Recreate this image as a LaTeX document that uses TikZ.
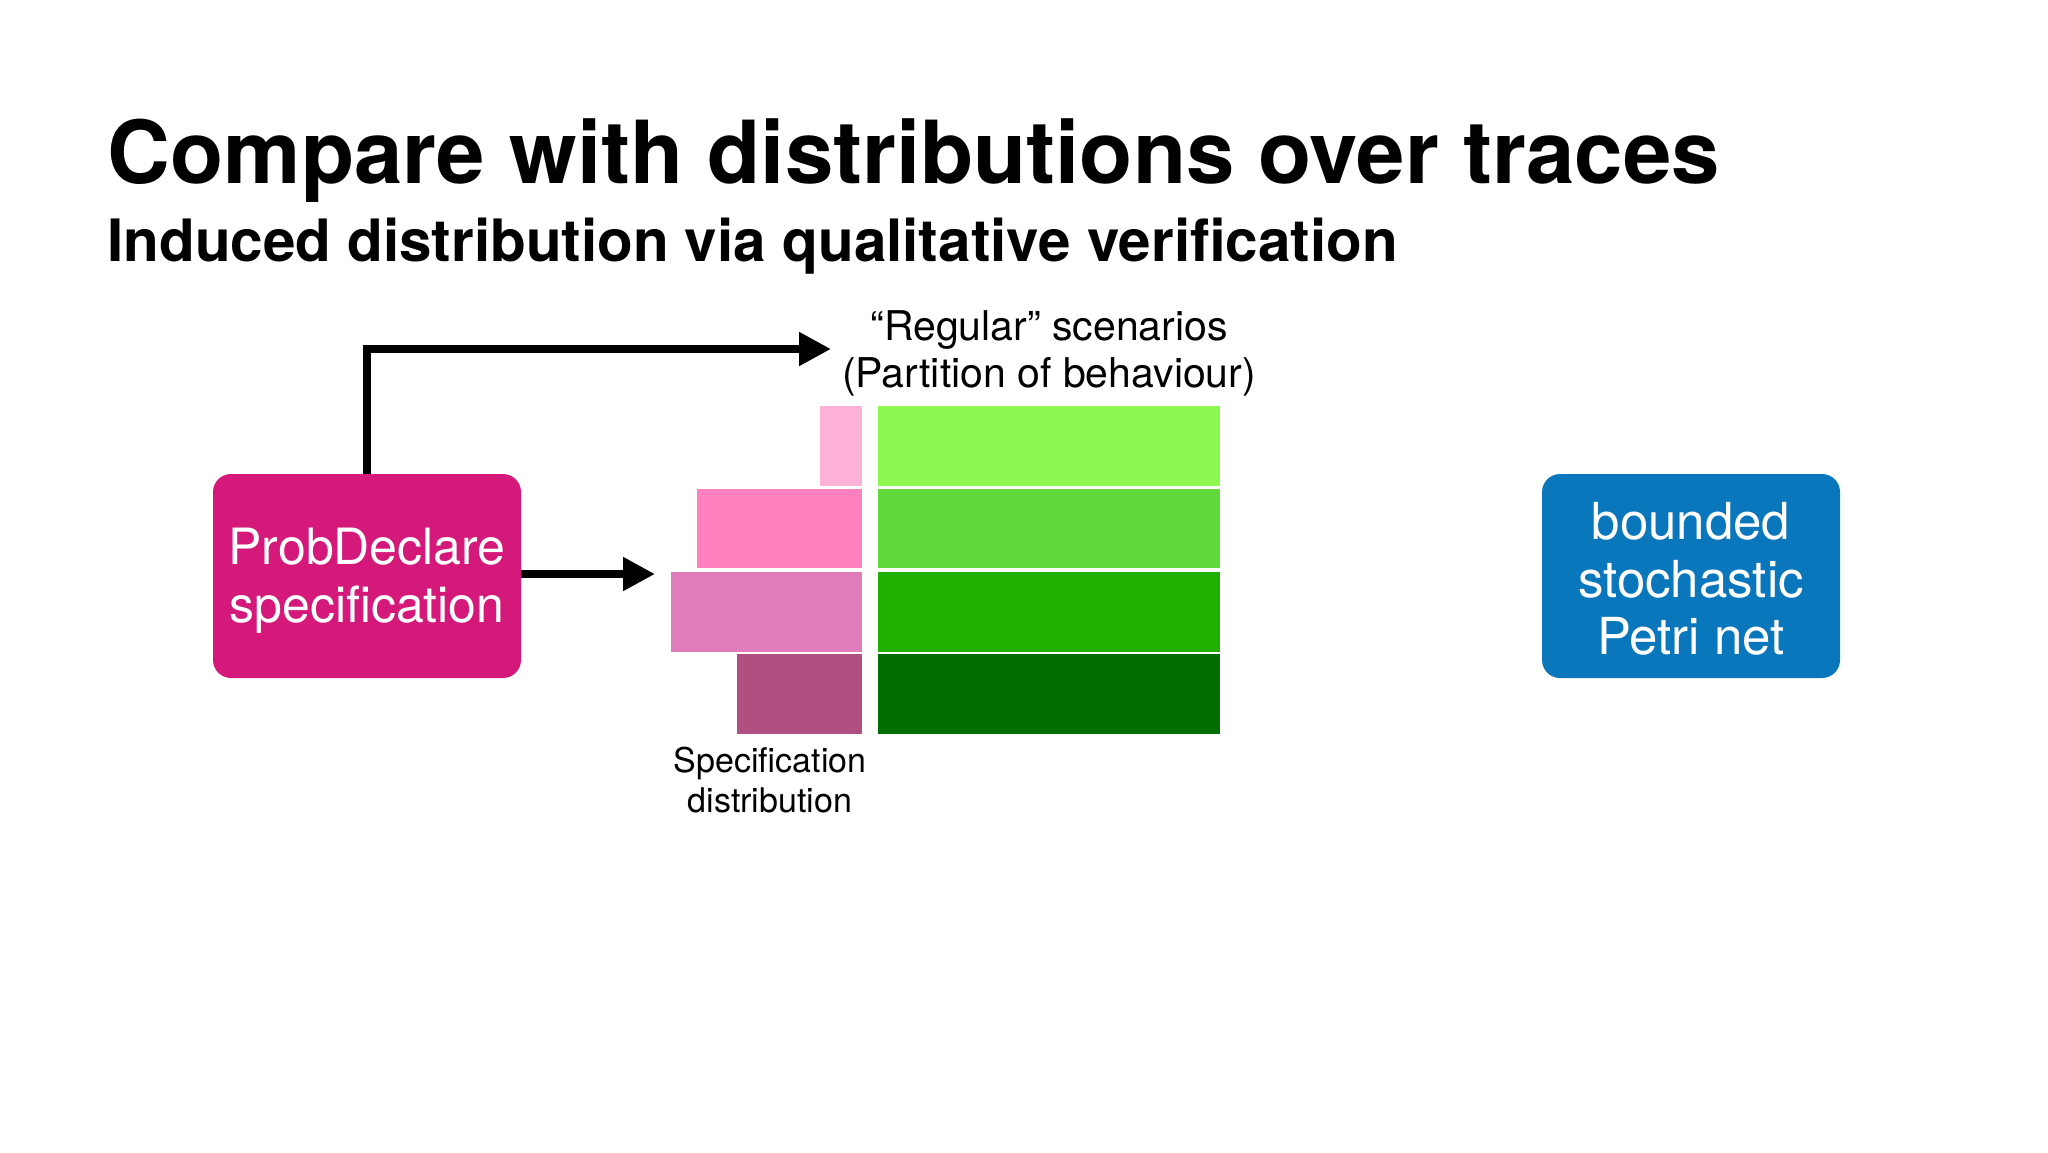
\documentclass[tikz,border=0pt]{standalone}
\usepackage{fontspec}
\setmainfont{TeX Gyre Heros}
\usetikzlibrary{arrows.meta}
\definecolor{pdmag}{RGB}{212,25,122}
\definecolor{pnblue}{RGB}{10,119,189}
\definecolor{pk1}{RGB}{255,178,216}
\definecolor{pk2}{RGB}{255,128,191}
\definecolor{pk3}{RGB}{224,124,186}
\definecolor{pk4}{RGB}{176,79,128}
\definecolor{gr1}{RGB}{140,248,80}
\definecolor{gr2}{RGB}{98,217,59}
\definecolor{gr3}{RGB}{31,176,0}
\definecolor{gr4}{RGB}{0,110,0}
\tikzset{
  bigbox/.style={rounded corners=9pt, inner sep=0pt, minimum height=102pt},
  boxlabel/.style={inner sep=0pt, text=white, align=center},
  titletext/.style={anchor=base west, inner sep=0pt, font=\fontsize{43.5pt}{52pt}\selectfont\bfseries},
  subtext/.style={anchor=base west, inner sep=0pt, font=\fontsize{29.2pt}{35pt}\selectfont\bfseries},
  labtext/.style={anchor=base, inner sep=0pt, font=\fontsize{20.5pt}{24pt}\selectfont},
  smalltext/.style={anchor=base, inner sep=0pt, font=\fontsize{17pt}{20pt}\selectfont},
  flow/.style={line width=4.25pt, -{Triangle[length=16pt,width=16pt]}},
}
\begin{document}
\begin{tikzpicture}[x=0.5pt,y=-0.5pt]
\useasboundingbox (0,0) rectangle (2048,1152);
\fill[white] (0,0) rectangle (2048,1152);

\node[titletext] (title) at (107,183) {Compare with distributions over traces};
\node[subtext] (subtitle) at (107,261) {Induced distribution via qualitative verification};

% green partition
\fill[gr1] (878,406) rectangle (1220,486);
\fill[gr2] (878,489) rectangle (1220,568);
\fill[gr3] (878,572) rectangle (1220,652);
\fill[gr4] (878,654) rectangle (1220,734);
% pink distribution bars
\fill[pk1] (820,406) rectangle (862,486);
\fill[pk2] (697,489) rectangle (862,568);
\fill[pk3] (671,572) rectangle (862,652);
\fill[pk4] (737,654) rectangle (862,734);

\node[bigbox, fill=pdmag, minimum width=154pt] (pd) at (367,576) {};
\node[boxlabel, font=\fontsize{25pt}{29pt}\selectfont] (pdtext) at (367,581) {ProbDeclare\\specification};
\node[bigbox, fill=pnblue, minimum width=149pt] (pn) at (1691,576) {};
\node[boxlabel, font=\fontsize{25.5pt}{28.7pt}\selectfont] (pntext) at (1691,579) {bounded\\stochastic\\Petri net};

\node[labtext] (reg1) at (1049,340) {“Regular” scenarios};
\node[labtext] (reg2) at (1049,387) {(Partition of behaviour)};
\node[smalltext] (spec1) at (770,772) {Specification};
\node[smalltext] (spec2) at (770,812) {distribution};

\coordinate (uptip) at (831,349);
\coordinate (lowtip) at (655,574);
\draw[flow] (pd.north) |- (uptip);
\draw[flow] (pd.east |- lowtip) -- (lowtip);
\end{tikzpicture}
\end{document}
